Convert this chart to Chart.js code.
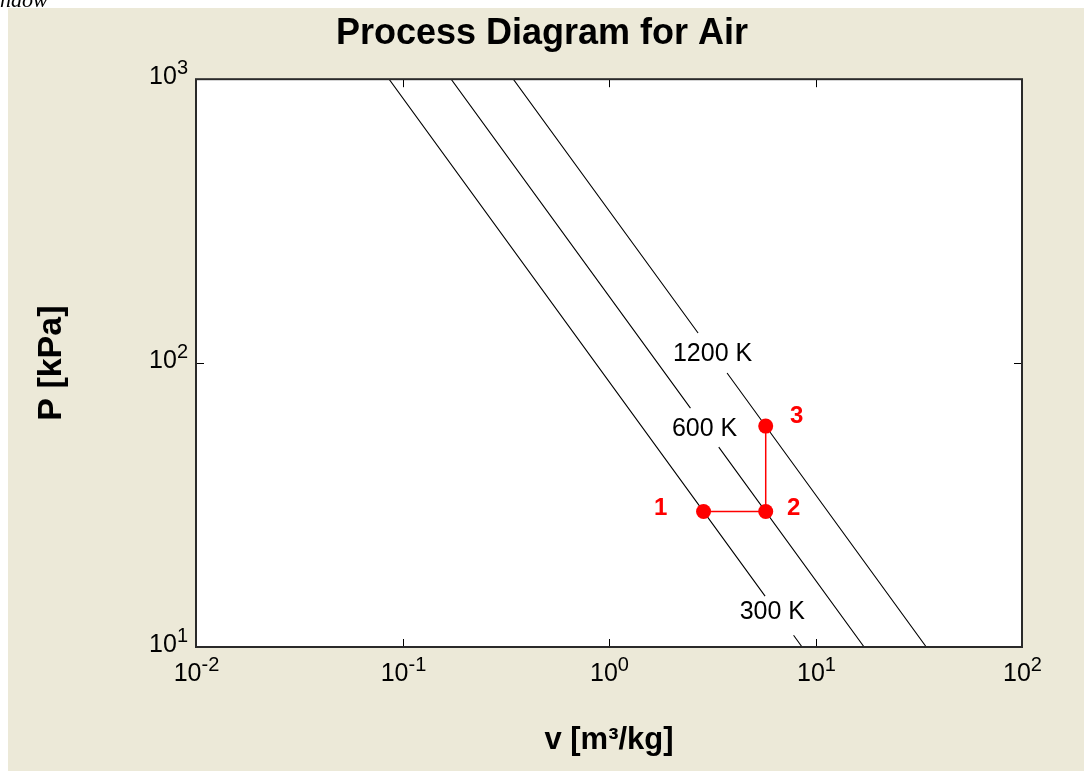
<!DOCTYPE html>
<html>
<head>
<meta charset="utf-8">
<script src="https://cdn.jsdelivr.net/npm/chart.js@4.4.1/dist/chart.umd.min.js"></script>
<style>
  body { margin: 0; background: #fff; }
  #wrap { position: relative; width: 1084px; height: 771px; overflow: hidden; }
  .cut { position: absolute; left: 0; top: -13px; font: italic 22px "Liberation Serif", serif; color: #000; }
</style>
</head>
<body>
<div id="wrap">
  <canvas id="graph" width="1084" height="771"></canvas>
  <div class="cut">ndow</div>
</div>
<script>
// isotherms, v in m3/kg, P in kPa (null = gap where the label sits)
const v300 = [0.0861, 5.70, null, 7.83, 8.61];
const p300 = [1000, 15.1, null, 11.0, 10];
const v600 = [0.172, 2.48, null, 3.40, 17.2];
const p600 = [1000, 69.4, null, 50.6, 10];
const v1200 = [0.344, 2.70, null, 3.73, 34.4];
const p1200 = [1000, 127.6, null, 92.3, 10];
const isoNames = ["300 K", "600 K", "1200 K"];

// process states 1-2-3
const stateV = [2.87, 5.74, 5.74];
const stateP = [30, 30, 60];
const stateNames = ["1", "2", "3"];

// axis decades
const xTicks = [0.01, 0.1, 1, 10, 100];
const xTickExp = ["-2", "-1", "0", "1", "2"];
const yTicks = [10, 100, 1000];
const yTickExp = ["1", "2", "3"];

const FONT = '"Liberation Sans", Arial, sans-serif';

function toPts(vs, ps) {
  return vs.map((v, i) => ({ x: v, y: ps[i] }));
}
function iso(vs, ps) {
  return {
    data: toPts(vs, ps),
    showLine: true,
    spanGaps: false,
    borderColor: "#000",
    borderWidth: 1.1,
    pointRadius: 0,
    order: 1,
  };
}

function drawPow(ctx, exp, x, y, align) {
  ctx.font = "25px " + FONT;
  const wb = ctx.measureText("10").width;
  ctx.font = "20px " + FONT;
  const we = ctx.measureText(exp).width;
  const x0 = align === "center" ? x - (wb + we) / 2 : x - wb - we;
  ctx.textAlign = "left";
  ctx.textBaseline = "middle";
  ctx.fillStyle = "#000";
  ctx.font = "25px " + FONT;
  ctx.fillText("10", x0, y);
  ctx.font = "20px " + FONT;
  ctx.fillText(exp, x0 + wb, y - 9);
}

const framePlugin = {
  id: "frame",
  beforeDraw(chart) {
    const { ctx, chartArea: a } = chart;
    ctx.save();
    ctx.fillStyle = "#fff";
    ctx.fillRect(0, 0, chart.width, chart.height);
    ctx.fillStyle = "#ECE9D8";
    ctx.fillRect(8, 8, chart.width - 8, chart.height - 8);
    ctx.fillStyle = "#fff";
    ctx.fillRect(a.left, a.top, a.right - a.left, a.bottom - a.top);
    ctx.restore();
  },
  afterDraw(chart) {
    const { ctx, chartArea: a } = chart;
    const sx = chart.scales.x, sy = chart.scales.y;
    ctx.save();
    ctx.strokeStyle = "#000";
    ctx.lineWidth = 1;
    xTicks.forEach((v, i) => {
      const px = Math.round(sx.getPixelForValue(v)) + 0.5;
      ctx.beginPath();
      ctx.moveTo(px, a.bottom); ctx.lineTo(px, a.bottom - 8);
      ctx.moveTo(px, a.top); ctx.lineTo(px, a.top + 8);
      ctx.stroke();
      drawPow(ctx, xTickExp[i], px, a.bottom + 27, "center");
    });
    yTicks.forEach((v, i) => {
      const py = Math.round(sy.getPixelForValue(v)) + 0.5;
      ctx.beginPath();
      ctx.moveTo(a.left, py); ctx.lineTo(a.left + 8, py);
      ctx.moveTo(a.right, py); ctx.lineTo(a.right - 8, py);
      ctx.stroke();
      drawPow(ctx, yTickExp[i], a.left - 8, py - 2.5, "right");
    });
    ctx.strokeStyle = "#2a2a2a";
    ctx.lineWidth = 2;
    ctx.strokeRect(a.left, a.top, a.right - a.left, a.bottom - a.top);

    // isotherm labels in the gaps of the lines
    const isoData = [[v300, p300], [v600, p600], [v1200, p1200]];
    ctx.font = "25px " + FONT;
    ctx.textAlign = "center";
    ctx.textBaseline = "middle";
    ctx.fillStyle = "#000";
    isoData.forEach(([vs, ps], i) => {
      const g = vs.indexOf(null);
      const x = (sx.getPixelForValue(vs[g - 1]) + sx.getPixelForValue(vs[g + 1])) / 2;
      const y = (sy.getPixelForValue(ps[g - 1]) + sy.getPixelForValue(ps[g + 1])) / 2;
      const dx = i === 0 ? -7 : 0, dy = i === 0 ? -4 : 1;
      ctx.fillText(isoNames[i], x + dx, y + dy);
    });

    // state numbers
    const off = [[-43, -3], [28, -3], [31, -10]];
    ctx.font = "bold 24px " + FONT;
    ctx.fillStyle = "#f00";
    stateNames.forEach((n, i) => {
      const x = sx.getPixelForValue(stateV[i]);
      const y = sy.getPixelForValue(stateP[i]);
      ctx.fillText(n, x + off[i][0], y + off[i][1]);
    });
    ctx.restore();
  },
};

const graph = new Chart(document.getElementById("graph"), {
  type: "scatter",
  data: {
    datasets: [
      iso(v300, p300),
      iso(v600, p600),
      iso(v1200, p1200),
      {
        data: toPts(stateV, stateP),
        showLine: true,
        borderColor: "#f00",
        backgroundColor: "#f00",
        borderWidth: 1.5,
        pointRadius: 7.5,
        pointBorderWidth: 0,
        order: 0,
      },
    ],
  },
  options: {
    responsive: false,
    animation: false,
    layout: { padding: 0 },
    plugins: {
      legend: { display: false },
      tooltip: { enabled: false },
      title: {
        display: true,
        text: "Process Diagram for Air",
        color: "#000",
        font: { family: FONT, size: 36, weight: "bold" },
        padding: { top: 12, bottom: 24 },
      },
    },
    scales: {
      x: {
        type: "logarithmic",
        position: "bottom",
        min: 0.01,
        max: 100,
        afterBuildTicks: (s) => {
          s.ticks = xTicks.map((v) => ({ value: v }));
        },
        ticks: { display: false },
        grid: { display: false },
        border: { display: false },
        title: {
          display: true,
          text: "v [m³/kg]",
          color: "#000",
          font: { family: FONT, size: 31, weight: "bold" },
          padding: { top: 0, bottom: 12 },
        },
        afterFit: (s) => {
          s.height = 124;
        },
      },
      y: {
        type: "logarithmic",
        position: "left",
        min: 10,
        max: 1000,
        afterBuildTicks: (s) => {
          s.ticks = yTicks.map((v) => ({ value: v }));
        },
        ticks: { display: false },
        grid: { display: false },
        border: { display: false },
        title: {
          display: true,
          text: "P [kPa]",
          color: "#000",
          font: { family: FONT, size: 34, weight: "bold" },
          padding: { top: 31, bottom: 0 },
        },
        afterFit: (s) => {
          s.width = 196;
        },
      },
      yPad: {
        position: "right",
        ticks: { display: false },
        grid: { display: false },
        border: { display: false },
        afterFit: (s) => {
          s.width = 62;
        },
      },
    },
  },
  plugins: [framePlugin],
});
</script>
</body>
</html>
